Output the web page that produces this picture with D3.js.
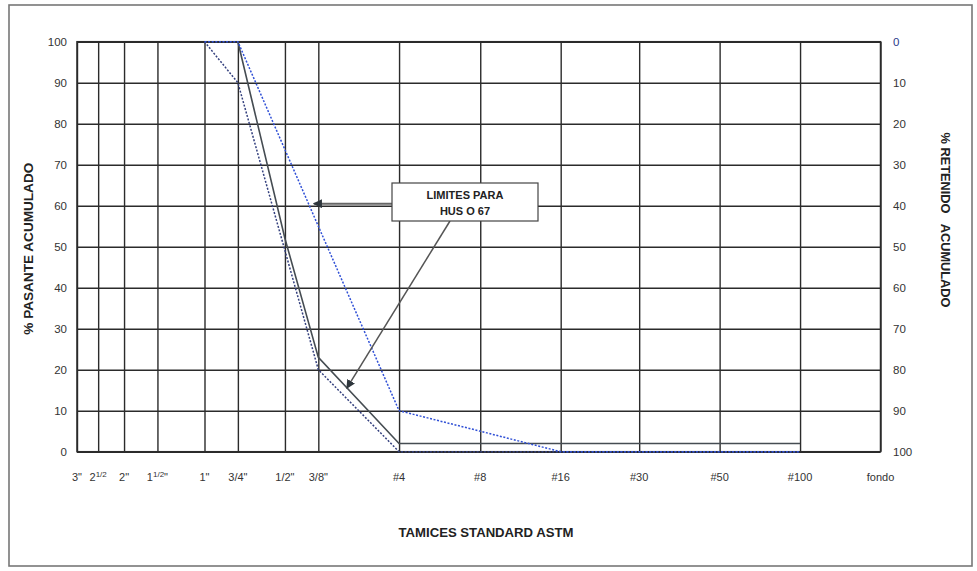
<!DOCTYPE html>
<html>
<head>
<meta charset="utf-8">
<script src="https://cdn.jsdelivr.net/npm/d3@7/dist/d3.min.js"></script>
<style>
    body { margin: 0; background: #fff; }
    text { font-family: "Liberation Sans", Arial, sans-serif; }
</style>
</head>
<body>
<svg id="chart" width="977" height="571"></svg>
<script>
// sieve labels and their openings in mm (fondo placed like a #200)
const sieveLabels = ['3"', '2 1/2', '2"', '1 1/2"', '1"', '3/4"', '1/2"', '3/8"', '#4', '#8', '#16', '#30', '#50', '#100', 'fondo'];
const sieveOpenings = [76.2, 63.5, 50.8, 38.1, 25.4, 19.05, 12.7, 9.525, 4.75, 2.36, 1.18, 0.6, 0.3, 0.15, 0.075];

// sample gradation (% passing)
const sampleSieves = ['3/4"', '1/2"', '3/8"', '#4', '#8', '#16', '#30', '#50', '#100'];
const samplePassing = [100, 52, 23, 2, 2, 2, 2, 2, 2];

// HUSO 67 limits (% passing)
const limitSieves = ['1"', '3/4"', '3/8"', '#4', '#8', '#16', '#30', '#50', '#100'];
const upperPassing = [100, 100, 55, 10, 5, 0, 0, 0, 0];
const lowerPassing = [100, 90, 20, 0, 0, 0, 0, 0, 0];

const passTicks = d3.range(0, 101, 10);
const noteLines = ['LIMITES PARA', 'HUS O 67'];

let svg = d3.select('#chart');

// outer frame
svg.append('rect')
    .attr('x', 9).attr('y', 5)
    .attr('width', 963).attr('height', 561)
    .attr('fill', 'none')
    .attr('stroke', '#777')
    .attr('stroke-width', 1.6);

let plot = { left: 77, right: 880.5, top: 41.7, bottom: 451.7 };

// log scale on the sieve openings, coarse to fine
let x = d3.scaleLog()
    .domain([sieveOpenings[0], sieveOpenings[sieveOpenings.length - 1]])
    .range([plot.left, plot.right]);
let y = d3.scaleLinear().domain([0, 100]).range([plot.bottom, plot.top]);
let yRight = d3.scaleLinear().domain([0, 100]).range([plot.top, plot.bottom]);

let opening = function(label) {
    return sieveOpenings[sieveLabels.indexOf(label)];
};

// grid through the axes, ticks stretched over the plot
let grid = svg.append('g').attr('class', 'grid');
grid.append('g')
    .attr('transform', `translate(0,${plot.bottom})`)
    .call(d3.axisBottom(x).tickValues(sieveOpenings).tickSize(-(plot.bottom - plot.top)).tickFormat(''));
grid.append('g')
    .attr('transform', `translate(${plot.left},0)`)
    .call(d3.axisLeft(y).tickValues(passTicks).tickSize(-(plot.right - plot.left)).tickFormat(''));
grid.selectAll('.domain').remove();
grid.selectAll('line')
    .attr('stroke', '#2b2b2b')
    .attr('stroke-width', 1.4);

svg.append('rect')
    .attr('x', plot.left).attr('y', plot.top)
    .attr('width', plot.right - plot.left)
    .attr('height', plot.bottom - plot.top)
    .attr('fill', 'none')
    .attr('stroke', '#2b2b2b')
    .attr('stroke-width', 1.5);

// left tick labels
svg.append('g')
    .selectAll('text')
    .data(passTicks)
    .enter().append('text')
        .attr('x', 67)
        .attr('y', d => y(d))
        .attr('dy', '0.35em')
        .attr('text-anchor', 'end')
        .attr('font-size', 11.5)
        .attr('fill', '#333')
        .text(d => d);

// right tick labels (% retained)
svg.append('g')
    .selectAll('text')
    .data(passTicks)
    .enter().append('text')
        .attr('x', 893)
        .attr('y', d => yRight(d))
        .attr('dy', '0.35em')
        .attr('font-size', 11.5)
        .attr('fill', d => d === 0 ? '#2a3a8a' : '#333')
        .text(d => d);

// sieve labels, fractions like "2 1/2" get a superscript
svg.append('g')
    .selectAll('text')
    .data(sieveLabels)
    .enter().append('text')
        .attr('x', (d, i) => x(sieveOpenings[i]))
        .attr('y', 477)
        .attr('dy', '0.35em')
        .attr('text-anchor', 'middle')
        .attr('font-size', 11)
        .attr('fill', '#333')
        .each(function(d) {
            let t = d3.select(this);
            let parts = d.split(' ');
            if (parts.length === 1) {
                t.text(d);
                return;
            }
            let frac = parts[1].replace('"', '');
            t.append('tspan').text(parts[0]);
            t.append('tspan').attr('font-size', 8).attr('dy', -4).text(frac);
            if (parts[1].endsWith('"'))
                t.append('tspan').attr('dy', 4).text('"');
        });

// axis titles
svg.append('text')
    .attr('transform', `translate(33,${(plot.top + plot.bottom) / 2 + 2})rotate(-90)`)
    .attr('text-anchor', 'middle')
    .attr('font-size', 12)
    .attr('font-weight', 'bold')
    .attr('fill', '#222')
    .attr('textLength', 172)
    .attr('lengthAdjust', 'spacingAndGlyphs')
    .text('% PASANTE ACUMULADO');

svg.append('text')
    .attr('transform', 'translate(941,220)rotate(90)')
    .attr('text-anchor', 'middle')
    .attr('font-size', 12)
    .attr('font-weight', 'bold')
    .attr('fill', '#222')
    .attr('textLength', 175)
    .attr('lengthAdjust', 'spacingAndGlyphs')
    .attr('xml:space', 'preserve')
    .text('% RETENIDO   ACUMULADO');

svg.append('text')
    .attr('x', 486)
    .attr('y', 537)
    .attr('text-anchor', 'middle')
    .attr('font-size', 12)
    .attr('font-weight', 'bold')
    .attr('fill', '#222')
    .attr('textLength', 175)
    .attr('lengthAdjust', 'spacingAndGlyphs')
    .text('TAMICES STANDARD ASTM');

// curves
let line = d3.line()
    .x(d => x(opening(d[0])))
    .y(d => y(d[1]));

let curves = svg.append('g').attr('class', 'curves').attr('fill', 'none');
curves.append('path')
    .datum(d3.zip(sampleSieves, samplePassing))
    .attr('d', line)
    .attr('stroke', '#454c52')
    .attr('stroke-width', 1.6);
curves.append('path')
    .datum(d3.zip(limitSieves, lowerPassing))
    .attr('d', line)
    .attr('stroke', '#34407e')
    .attr('stroke-width', 1.5)
    .attr('stroke-dasharray', '2,1.6');
curves.append('path')
    .datum(d3.zip(limitSieves, upperPassing))
    .attr('d', line)
    .attr('stroke', '#3050d6')
    .attr('stroke-width', 1.5)
    .attr('stroke-dasharray', '2,1.6');

// callout box with its two arrows
svg.append('defs').append('marker')
    .attr('id', 'head')
    .attr('viewBox', '0 0 10 10')
    .attr('refX', 9).attr('refY', 5)
    .attr('markerWidth', 9).attr('markerHeight', 9)
    .attr('markerUnits', 'userSpaceOnUse')
    .attr('orient', 'auto')
    .append('path')
        .attr('d', 'M0,0L10,5L0,10z')
        .attr('fill', '#2e363c');

let box = { x: 392, y: 183, w: 146, h: 38 };
let tipUpper = [x(9.9), y(60.5)];
let tipSample = [x(7.45), y(15.5)];

let note = svg.append('g').attr('class', 'note');
note.append('line')
    .attr('x1', box.x).attr('y1', tipUpper[1])
    .attr('x2', tipUpper[0]).attr('y2', tipUpper[1])
    .attr('stroke', '#666')
    .attr('stroke-width', 2)
    .attr('marker-end', 'url(#head)');
note.append('line')
    .attr('x1', 450).attr('y1', box.y + box.h)
    .attr('x2', tipSample[0]).attr('y2', tipSample[1])
    .attr('stroke', '#555')
    .attr('stroke-width', 1.5)
    .attr('marker-end', 'url(#head)');
note.append('rect')
    .attr('x', box.x).attr('y', box.y)
    .attr('width', box.w).attr('height', box.h)
    .attr('fill', '#fff')
    .attr('stroke', '#444')
    .attr('stroke-width', 1.2);
note.selectAll('text')
    .data(noteLines)
    .enter().append('text')
        .attr('x', box.x + box.w / 2)
        .attr('y', (d, i) => box.y + 12 + i * 16)
        .attr('dy', '0.35em')
        .attr('text-anchor', 'middle')
        .attr('font-size', 11)
        .attr('font-weight', 'bold')
        .attr('fill', '#222')
        .text(d => d);
</script>
</body>
</html>
